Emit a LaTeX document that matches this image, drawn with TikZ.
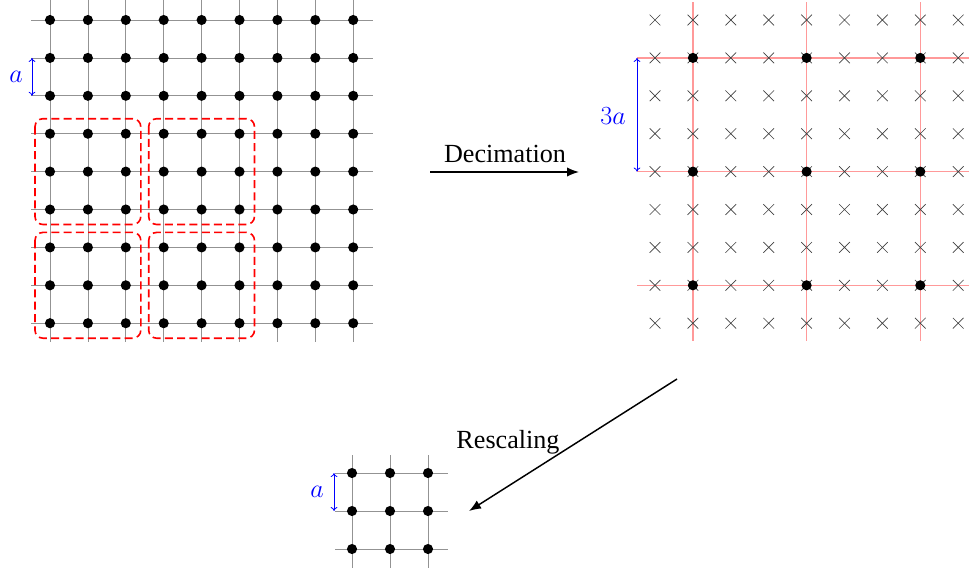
\RequirePackage{fix-cm}
\documentclass[tikz,border=0pt]{standalone}
\usepackage{fontspec}
\setmainfont{Liberation Serif}
\usetikzlibrary{arrows.meta,shapes.misc}
\begin{document}
\begin{tikzpicture}[x=0.75pt,y=-0.75pt,
  gridline/.style={draw=gray!85, line width=0.5pt},
  redline/.style={draw=red!40, line width=0.9pt},
  dot/.style={circle, fill=black, inner sep=0pt, minimum size=7.6pt},
  xmark/.style={cross out, draw=black!75, line width=0.5pt, inner sep=0pt, minimum size=7.5pt},
  redbox/.style={draw=red, line width=1.2pt, dash pattern=on 6pt off 3.2pt, rounded corners=6pt},
  bluearrow/.style={draw=blue, line width=0.6pt, {To[length=3pt,width=5pt]}-{To[length=3pt,width=5pt]}},
  bluelabel/.style={text=blue, font=\fontsize{19.6}{23}\selectfont, inner sep=0pt},
  biglabel/.style={font=\fontsize{19.6}{23}\selectfont, inner sep=0pt},
  bigarrow/.style={draw=black, line width=1.1pt, -{Latex[length=9pt,width=7pt]}}
]
\useasboundingbox (0,0) rectangle (969,572);
\def\s{37.9}
% ---------- left lattice ----------
\foreach \i in {0,...,8} {
  \draw[gridline] ({50+\s*\i},0) -- ({50+\s*\i},342);
  \draw[gridline] (31,{20+\s*\i}) -- (373,{20+\s*\i});
}
\foreach \i in {0,...,8} \foreach \j in {0,...,8}
  \node[dot] (L-\i-\j) at ({50+\s*\i},{20+\s*\j}) {};
\foreach \bi in {0,1} \foreach \bj in {0,1}
  \draw[redbox] ({50+3*\s*\bi-15},{20+(3+3*\bj)*\s-15})
     rectangle ({50+(3*\bi+2)*\s+15},{20+(3*\bj+5)*\s+15});
\coordinate (la1) at (32,{20+\s});
\coordinate (la2) at (32,{20+2*\s});
\draw[bluearrow] (la1) -- (la2);
\node[bluelabel] (la) at (16,77) {$a$};
% ---------- right lattice ----------
\foreach \k in {1,4,7} {
  \draw[redline] ({655+\s*\k},2) -- ({655+\s*\k},341);
  \draw[redline] (637,{20+\s*\k}) -- (969,{20+\s*\k});
}
\foreach \i in {0,...,8} \foreach \j in {0,...,8}
  \node[xmark] (R-\i-\j) at ({655+\s*\i},{20+\s*\j}) {};
\foreach \i in {1,4,7} \foreach \j in {1,4,7}
  \node[dot] (D-\i-\j) at ({655+\s*\i},{20+\s*\j}) {};
\coordinate (ra1) at (637,{20+\s});
\coordinate (ra2) at (637,{20+4*\s});
\draw[bluearrow] (ra1) -- (ra2);
\node[bluelabel] (ra) at (613,116) {$3a$};
% ---------- small lattice ----------
\foreach \i in {0,1,2} {
  \draw[gridline] ({352+38*\i},455) -- ({352+38*\i},568);
  \draw[gridline] (335,{473+38*\i}) -- (448,{473+38*\i});
}
\foreach \i in {0,1,2} \foreach \j in {0,1,2}
  \node[dot] (S-\i-\j) at ({352+38*\i},{473+38*\j}) {};
\coordinate (sa1) at (334,473);
\coordinate (sa2) at (334,511);
\draw[bluearrow] (sa1) -- (sa2);
\node[bluelabel] (sa) at (317,492) {$a$};
% ---------- arrows ----------
\coordinate (dA) at (430,172);
\coordinate (dB) at (579,172);
\draw[bigarrow] (dA) -- (dB);
\node[biglabel] (dec) at (505,154) {Decimation};
\coordinate (rA) at (677,379);
\coordinate (rB) at (469,511);
\draw[bigarrow] (rA) -- (rB);
\node[biglabel] (res) at (508,442) {Rescaling};
\end{tikzpicture}
\end{document}
